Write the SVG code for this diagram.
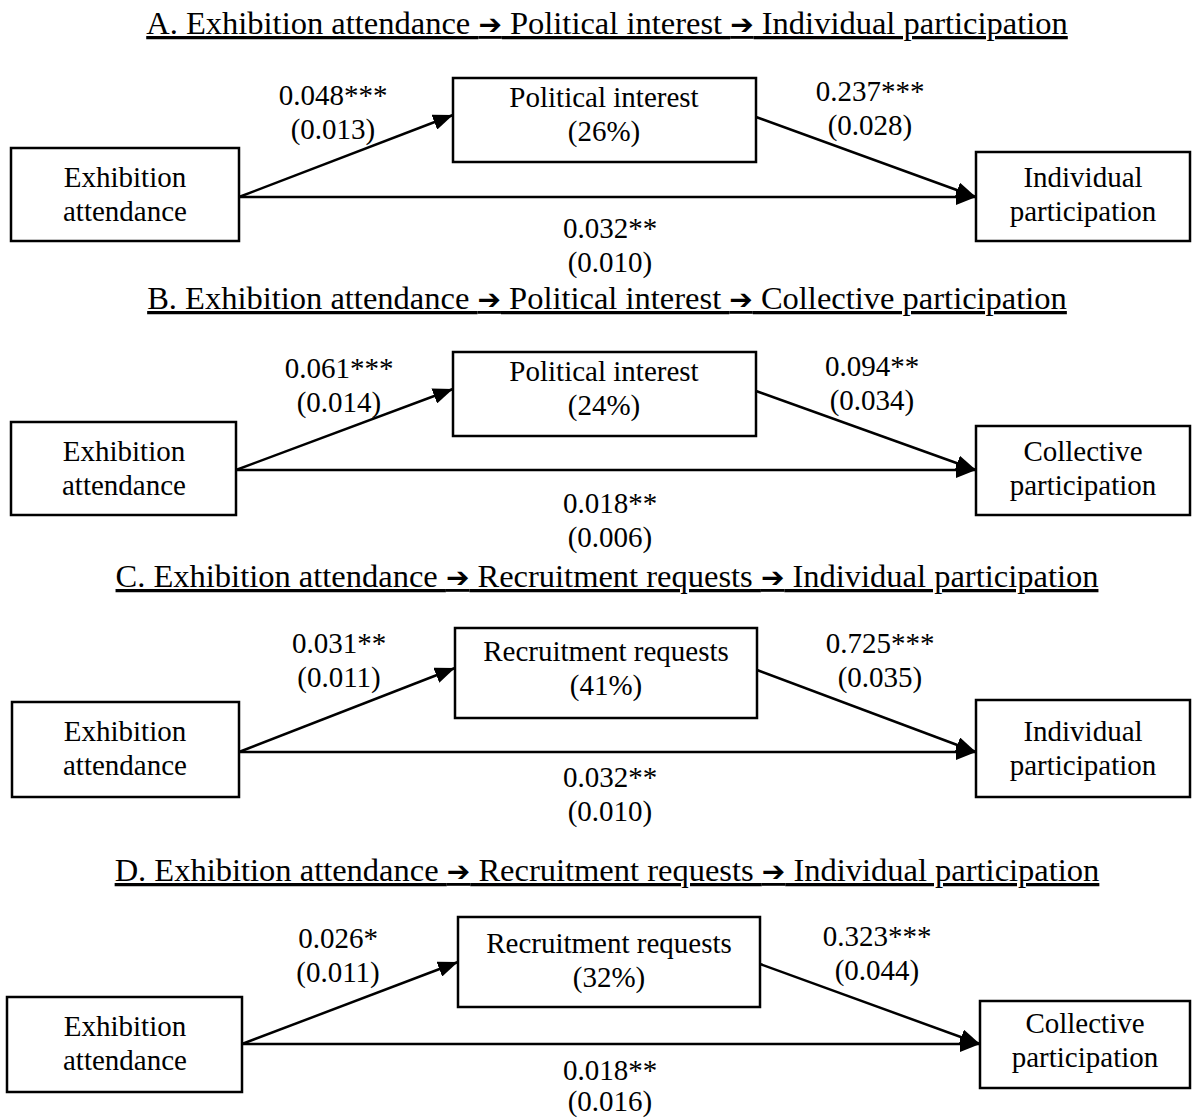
<svg xmlns="http://www.w3.org/2000/svg" width="1201" height="1118" viewBox="0 0 1201 1118">
<style>
text{font-family:"Liberation Serif","Times New Roman",serif;fill:#000}
.t{font-size:32.5px;text-anchor:middle;text-decoration:underline}
.ar{font-family:"DejaVu Sans",sans-serif;font-size:28px}
.n{font-size:29px;text-anchor:middle}
.l{font-size:29px;text-anchor:middle}
rect{fill:#fff;stroke:#000;stroke-width:2.5}
.c line{stroke:#000;stroke-width:2.5}
</style>
<defs>
<marker id="a" viewBox="0 0 20 16" refX="20" refY="8" markerWidth="20" markerHeight="16" markerUnits="userSpaceOnUse" orient="auto">
<path d="M0,0 L20,8 L0,16 Z" fill="#000"/>
</marker>
</defs>

<!-- Panel A -->
<text class="t" x="607" y="34">A. Exhibition attendance <tspan class="ar">➔</tspan> Political interest <tspan class="ar">➔</tspan> Individual participation</text>
<g class="c" id="conn-a">
<line x1="239" y1="197" x2="453" y2="115" marker-end="url(#a)"/>
<line x1="756" y1="117" x2="976" y2="197" marker-end="url(#a)"/>
<line x1="239" y1="197" x2="976" y2="197" marker-end="url(#a)"/>
</g>
<g id="a-exh"><rect x="11" y="148" width="228" height="93"/><text class="n" x="125" y="187">Exhibition</text><text class="n" x="125" y="221">attendance</text></g>
<g id="a-pol"><rect x="453" y="78" width="303" height="84"/><text class="n" x="604" y="107">Political interest</text><text class="n" x="604" y="141">(26%)</text></g>
<g id="a-ind"><rect x="976" y="152" width="214" height="89"/><text class="n" x="1083" y="187">Individual</text><text class="n" x="1083" y="221">participation</text></g>
<g id="a-labels">
<text class="l" x="333" y="105">0.048***</text><text class="l" x="333" y="139">(0.013)</text>
<text class="l" x="870" y="101">0.237***</text><text class="l" x="870" y="135">(0.028)</text>
<text class="l" x="610" y="238">0.032**</text><text class="l" x="610" y="272">(0.010)</text>
</g>

<!-- Panel B -->
<text class="t" x="607" y="309">B. Exhibition attendance <tspan class="ar">➔</tspan> Political interest <tspan class="ar">➔</tspan> Collective participation</text>
<g class="c" id="conn-b">
<line x1="236" y1="470" x2="453" y2="389" marker-end="url(#a)"/>
<line x1="756" y1="391" x2="976" y2="470" marker-end="url(#a)"/>
<line x1="236" y1="470" x2="976" y2="470" marker-end="url(#a)"/>
</g>
<g id="b-exh"><rect x="11" y="422" width="225" height="93"/><text class="n" x="124" y="461">Exhibition</text><text class="n" x="124" y="495">attendance</text></g>
<g id="b-pol"><rect x="453" y="352" width="303" height="84"/><text class="n" x="604" y="381">Political interest</text><text class="n" x="604" y="415">(24%)</text></g>
<g id="b-col"><rect x="976" y="426" width="214" height="89"/><text class="n" x="1083" y="461">Collective</text><text class="n" x="1083" y="495">participation</text></g>
<g id="b-labels">
<text class="l" x="339" y="378">0.061***</text><text class="l" x="339" y="412">(0.014)</text>
<text class="l" x="872" y="376">0.094**</text><text class="l" x="872" y="410">(0.034)</text>
<text class="l" x="610" y="513">0.018**</text><text class="l" x="610" y="547">(0.006)</text>
</g>

<!-- Panel C -->
<text class="t" x="607" y="587">C. Exhibition attendance <tspan class="ar">➔</tspan> Recruitment requests <tspan class="ar">➔</tspan> Individual participation</text>
<g class="c" id="conn-c">
<line x1="239" y1="752" x2="455" y2="668" marker-end="url(#a)"/>
<line x1="757" y1="670" x2="976" y2="752" marker-end="url(#a)"/>
<line x1="239" y1="752" x2="976" y2="752" marker-end="url(#a)"/>
</g>
<g id="c-exh"><rect x="12" y="702" width="227" height="95"/><text class="n" x="125" y="741">Exhibition</text><text class="n" x="125" y="775">attendance</text></g>
<g id="c-rec"><rect x="455" y="628" width="302" height="90"/><text class="n" x="606" y="661">Recruitment requests</text><text class="n" x="606" y="695">(41%)</text></g>
<g id="c-ind"><rect x="976" y="700" width="214" height="97"/><text class="n" x="1083" y="741">Individual</text><text class="n" x="1083" y="775">participation</text></g>
<g id="c-labels">
<text class="l" x="339" y="653">0.031**</text><text class="l" x="339" y="687">(0.011)</text>
<text class="l" x="880" y="653">0.725***</text><text class="l" x="880" y="687">(0.035)</text>
<text class="l" x="610" y="787">0.032**</text><text class="l" x="610" y="821">(0.010)</text>
</g>

<!-- Panel D -->
<text class="t" x="607" y="881">D. Exhibition attendance <tspan class="ar">➔</tspan> Recruitment requests <tspan class="ar">➔</tspan> Individual participation</text>
<g class="c" id="conn-d">
<line x1="242" y1="1044" x2="458" y2="962" marker-end="url(#a)"/>
<line x1="760" y1="964" x2="980" y2="1044" marker-end="url(#a)"/>
<line x1="242" y1="1044" x2="980" y2="1044" marker-end="url(#a)"/>
</g>
<g id="d-exh"><rect x="7" y="997" width="235" height="95"/><text class="n" x="125" y="1036">Exhibition</text><text class="n" x="125" y="1070">attendance</text></g>
<g id="d-rec"><rect x="458" y="917" width="302" height="90"/><text class="n" x="609" y="953">Recruitment requests</text><text class="n" x="609" y="987">(32%)</text></g>
<g id="d-col"><rect x="980" y="1001" width="210" height="87"/><text class="n" x="1085" y="1033">Collective</text><text class="n" x="1085" y="1067">participation</text></g>
<g id="d-labels">
<text class="l" x="338" y="948">0.026*</text><text class="l" x="338" y="982">(0.011)</text>
<text class="l" x="877" y="946">0.323***</text><text class="l" x="877" y="980">(0.044)</text>
<text class="l" x="610" y="1080">0.018**</text><text class="l" x="610" y="1111">(0.016)</text>
</g>
</svg>
